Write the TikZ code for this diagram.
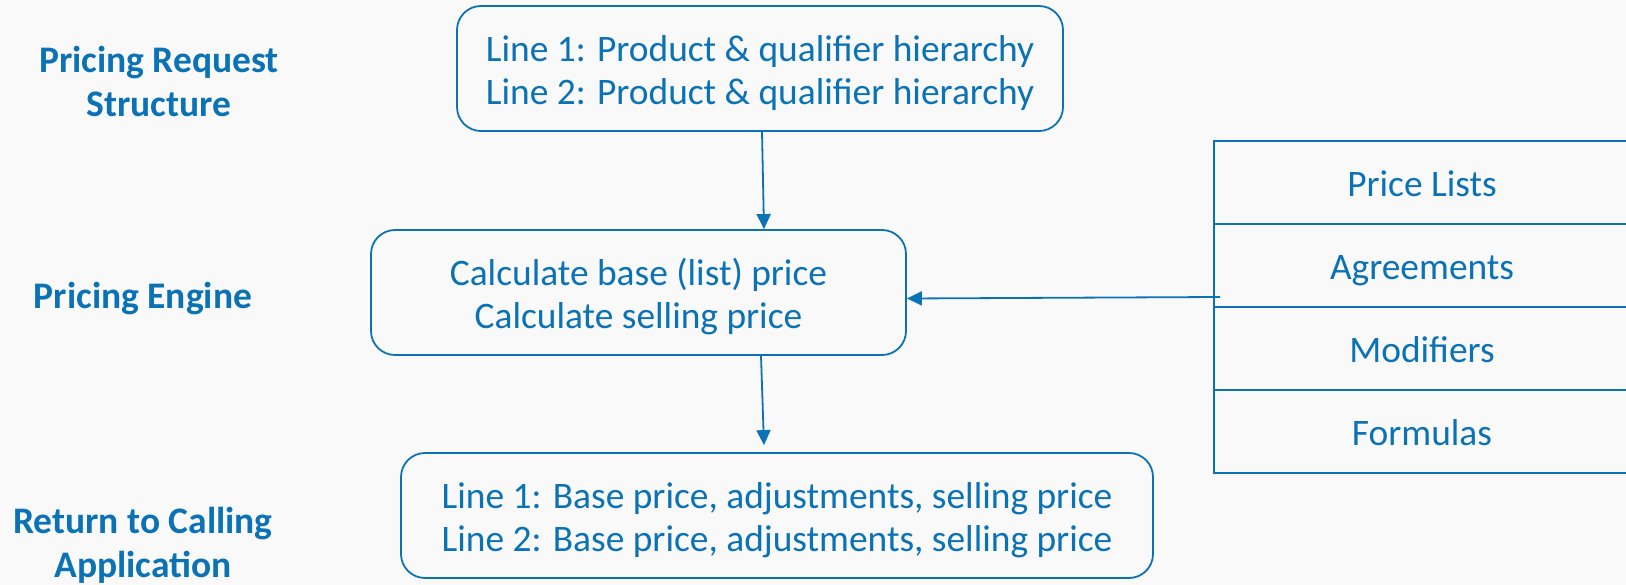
\documentclass[tikz,border=0pt]{standalone}
\usepackage{fontspec}
\setmainfont{Carlito}
\usetikzlibrary{arrows.meta,calc}
\definecolor{mblue}{HTML}{0A72B5}
\definecolor{bgc}{HTML}{F9F9F9}
\begin{document}
\begin{tikzpicture}[x=1pt,y=-1pt,
  box/.style={draw=mblue,line width=1.8pt,rounded corners=24pt,inner sep=0pt,minimum height=125pt},
  btxt/.style={text=mblue,align=center,font=\fontsize{37.4}{43}\selectfont,inner sep=0pt},
  cell/.style={draw=mblue,line width=1.8pt,text=mblue,minimum width=416pt,minimum height=83pt,
    font=\fontsize{37.4}{43}\selectfont,inner sep=0pt,text height=28pt,text depth=0pt},
  lab/.style={text=mblue,align=center,font=\fontsize{37.5}{44}\selectfont\bfseries},
  arr/.style={draw=mblue,line width=1.8pt,-{Triangle[length=15pt,width=14pt]}}]
\fill[bgc] (0,0) rectangle (1626,585);
\useasboundingbox (0,0) rectangle (1626,585);
\node[box,minimum width=606pt] (req) at (760,68.5) {};
\node[btxt] (reqt) at ($(req.center)+(0,4.5)$)
  {Line 1: Product \& qualifier hierarchy\\Line 2: Product \& qualifier hierarchy};
\node[box,minimum width=535pt] (eng) at (638.5,292.5) {};
\node[btxt] (engt) at ($(eng.center)+(0,4.5)$)
  {Calculate base (list) price\\Calculate selling price};
\node[box,minimum width=752pt] (ret) at (777,515.5) {};
\node[btxt] (rett) at ($(ret.center)+(0,4.5)$)
  {Line 1: Base price, adjustments, selling price\\Line 2: Base price, adjustments, selling price};
\node[cell] (pl) at (1422,182.5) {Price Lists};
\node[cell] (ag) at (1422,265.5) {Agreements};
\node[cell] (mo) at (1422,348.5) {Modifiers};
\node[cell] (fo) at (1422,431.5) {Formulas};
\node[lab] (l1) at (159,81) {Pricing Request\\Structure};
\node[lab] (l2) at (143,299) {Pricing Engine};
\node[lab] (l3) at (143,545) {Return to Calling\\Application};
\coordinate (src) at (1220,297);
\draw[arr] ($(req.south)+(2,0)$) -- ($(eng.north)+(125.5,0)$);
\draw[arr] ($(eng.south)+(122.5,0)$) -- ($(ret.north)+(-13,-7)$);
\draw[arr] (src) -- ($(eng.east)+(0,6)$);
\end{tikzpicture}
\end{document}
